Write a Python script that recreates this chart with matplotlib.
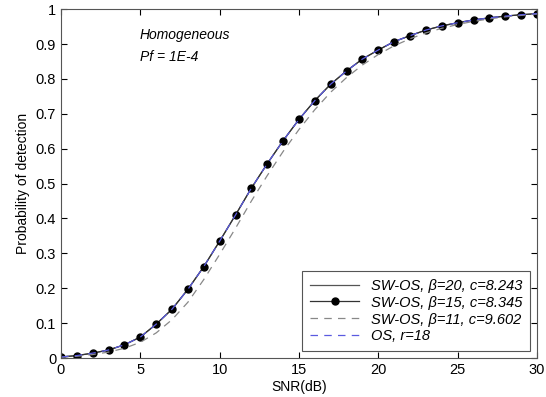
import matplotlib
matplotlib.use('Agg')
import matplotlib.pyplot as plt

plt.rcParams['font.family'] = ['Liberation Sans', 'DejaVu Sans']

snr = list(range(0, 31))
pd_b20 = [0.003, 0.007, 0.014, 0.023, 0.038, 0.060, 0.097, 0.140, 0.197, 0.262,
          0.335, 0.410, 0.487, 0.557, 0.623, 0.684, 0.738, 0.785, 0.823, 0.857,
          0.883, 0.907, 0.924, 0.940, 0.952, 0.961, 0.969, 0.975, 0.980, 0.984, 0.987]
pd_b15 = [0.003, 0.007, 0.014, 0.023, 0.038, 0.060, 0.097, 0.140, 0.197, 0.262,
          0.335, 0.410, 0.487, 0.557, 0.623, 0.684, 0.738, 0.785, 0.823, 0.857,
          0.883, 0.907, 0.924, 0.940, 0.952, 0.961, 0.969, 0.975, 0.980, 0.984, 0.987]
pd_b11 = [0.002, 0.005, 0.010, 0.017, 0.028, 0.045, 0.072, 0.110, 0.160, 0.225,
          0.297, 0.372, 0.450, 0.523, 0.592, 0.655, 0.712, 0.762, 0.804, 0.840,
          0.870, 0.895, 0.915, 0.932, 0.945, 0.956, 0.965, 0.972, 0.978, 0.982, 0.986]
pd_os = [0.003, 0.007, 0.014, 0.023, 0.038, 0.060, 0.097, 0.140, 0.197, 0.262,
         0.335, 0.410, 0.487, 0.557, 0.623, 0.684, 0.738, 0.785, 0.823, 0.857,
         0.883, 0.907, 0.924, 0.940, 0.952, 0.961, 0.969, 0.975, 0.980, 0.984, 0.987]

labels = ['SW-OS, \u03b2=20, c=8.243', 'SW-OS, \u03b2=15, c=8.345',
          'SW-OS, \u03b2=11, c=9.602', 'OS, r=18']

fig = plt.figure(figsize=(5.46, 3.97), dpi=100)
ax = fig.add_axes([0.1117, 0.0982, 0.8718, 0.8788])

ax.plot(snr, pd_b20, color='#555555', lw=0.9, label=labels[0])
ax.plot(snr, pd_b15, color='#333333', lw=0.9, marker='o', ms=5,
        mfc='black', mec='black', label=labels[1])
ax.plot(snr, pd_b11, color='#888888', lw=0.9, ls=(0, (6, 5)), label=labels[2])
ax.plot(snr, pd_os, color='#5a5ae0', lw=0.9, ls=(0, (6, 5)), label=labels[3])

ax.set_xlim(0, 30)
ax.set_ylim(0, 1)
ax.set_xticks(range(0, 31, 5))
ax.set_yticks([i / 10 for i in range(11)])
ax.set_yticklabels(['0', '0.1', '0.2', '0.3', '0.4', '0.5', '0.6', '0.7', '0.8', '0.9', '1'])
ax.tick_params(direction='in', labelsize=10.5, length=4, top=True, right=True)
for s in ax.spines.values():
    s.set_color('#555555')
ax.set_xlabel('SNR(dB)', fontsize=10, labelpad=2)
ax.set_ylabel('Probability of detection', fontsize=10, labelpad=4)

ax.text(4.98, 0.925, 'Homogeneous', fontsize=10, style='italic', va='center')
ax.text(4.98, 0.862, 'Pf = 1E-4', fontsize=10, style='italic', va='center')

leg = ax.legend(loc='lower right', prop={'style': 'italic', 'size': 10.5},
                fancybox=False, edgecolor='#555555', framealpha=1,
                handlelength=3.4, borderaxespad=0.5, labelspacing=0.2,
                borderpad=0.5)
leg.get_frame().set_linewidth(0.8)

fig.savefig('out.png', dpi=100)
